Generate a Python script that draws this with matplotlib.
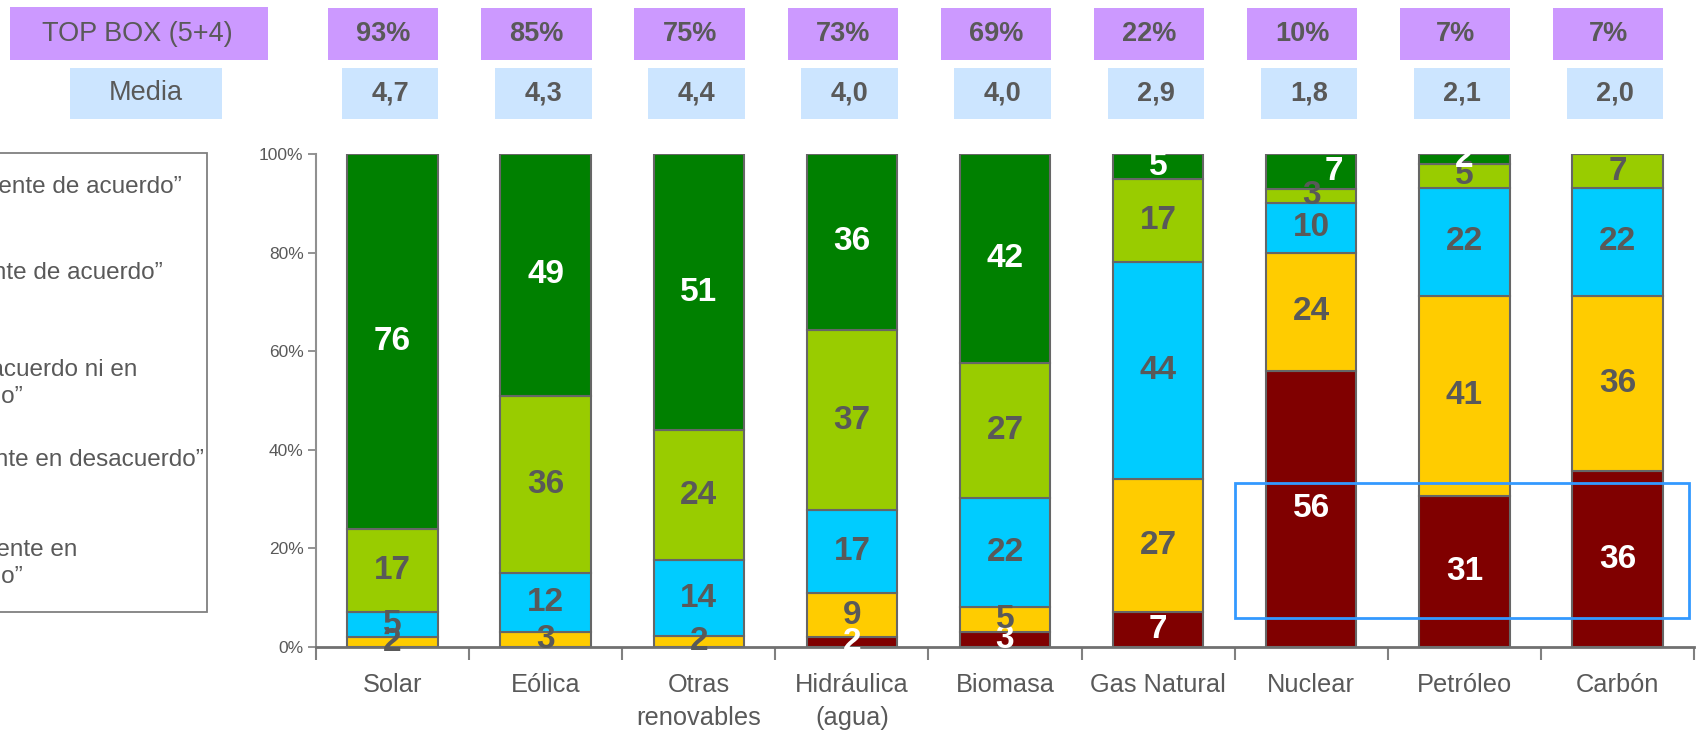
import matplotlib.pyplot as plt
import matplotlib.transforms as mtransforms
from matplotlib.patches import Rectangle
import numpy as np

plt.rcParams['font.family'] = ['Liberation Sans', 'DejaVu Sans']

categories = ["Solar", "Eólica", "Otras\nrenovables", "Hidráulica\n(agua)", "Biomasa",
              "Gas Natural", "Nuclear", "Petróleo", "Carbón"]

# answers per energy source, from "totalmente en desacuerdo" (1) up to "totalmente de acuerdo" (5)
tot_desacuerdo = [0, 0, 0, 2, 3, 7, 56, 31, 36]
bas_desacuerdo = [2, 3, 2, 9, 5, 27, 24, 41, 36]
ni_ni = [5, 12, 14, 17, 22, 44, 10, 22, 22]
bas_acuerdo = [17, 36, 24, 37, 27, 17, 3, 5, 7]
tot_acuerdo = [76, 49, 51, 36, 42, 5, 7, 2, 0]

top_box = ["93%", "85%", "75%", "73%", "69%", "22%", "10%", "7%", "7%"]
media = ["4,7", "4,3", "4,4", "4,0", "4,0", "2,9", "1,8", "2,1", "2,0"]

legend_lines = ["“Totalmente de acuerdo”", "“Bastante de acuerdo”",
                "“Ni de acuerdo ni en", "desacuerdo”", "“Bastante en desacuerdo”",
                "“Totalmente en", "desacuerdo”"]

series = [tot_desacuerdo, bas_desacuerdo, ni_ni, bas_acuerdo, tot_acuerdo]
colors = ["#800000", "#FFCC00", "#00CCFF", "#99CC00", "#008000"]
label_colors = ["white", "#595959", "#595959", "#595959", "white"]
GRAY = "#595959"

W, H = 1698, 731
fig = plt.figure(figsize=(W / 100, H / 100), dpi=100)
ax = fig.add_axes([316 / W, 1 - 647 / H, (1694 - 316) / W, (647 - 154) / H])

x = np.arange(len(categories))
vals = np.array(series, dtype=float)
pct = vals / vals.sum(axis=0) * 100  # each column stacked to 100%

bottom = np.zeros(len(categories))
for k in range(len(series)):
    ax.bar(x, pct[k], 0.59, bottom=bottom, color=colors[k],
           edgecolor="#666666", linewidth=1.5, zorder=2)
    for i in range(len(categories)):
        if vals[k, i] == 0:
            continue
        dx = 0.15 if (k == 4 and categories[i] == "Nuclear") else 0
        ax.text(x[i] + dx, bottom[i] + pct[k, i] / 2, "%d" % vals[k, i],
                ha="center", va="center", fontsize=24, fontweight="bold",
                color=label_colors[k], zorder=4)
    bottom += pct[k]

ax.set_xlim(-0.5, len(categories) - 0.5)
ax.set_ylim(0, 100)
ax.set_yticks(range(0, 101, 20))
ax.set_yticklabels(["%d%%" % v for v in range(0, 101, 20)])
ax.set_xticks(x)
ax.set_xticklabels(categories)
ax.set_xticks(np.arange(-0.5, len(categories)), minor=True)
ax.tick_params(axis="x", which="major", length=0, pad=19, labelsize=18.3, labelcolor=GRAY)
ax.tick_params(axis="x", which="minor", length=9, width=1.5, color="#808080")
ax.tick_params(axis="y", length=6, width=1.2, color="#808080", pad=3,
               labelsize=12.5, labelcolor=GRAY)
for lab in ax.get_xticklabels():
    lab.set_linespacing(1.45)

for side in ["top", "right"]:
    ax.spines[side].set_visible(False)
ax.spines["left"].set_color("#909090")
ax.spines["left"].set_linewidth(1.5)
ax.spines["bottom"].set_color("#707070")
ax.spines["bottom"].set_linewidth(2)

# highlight around the three least accepted sources
ax.add_patch(Rectangle((5.5, 5.9), 2.97, 27.4, fill=False, edgecolor="#3399FF",
                       linewidth=2, clip_on=False, zorder=5))

# summary boxes above the bars
trans = mtransforms.blended_transform_factory(ax.transData, fig.transFigure)
purple, blue = "#CC99FF", "#CCE5FF"
for i in range(len(categories)):
    ax.add_patch(Rectangle((x[i] - 0.42, 1 - 60 / H), 0.72, 52 / H, transform=trans,
                           facecolor=purple, edgecolor="none", clip_on=False))
    ax.text(x[i] - 0.06, 1 - 34 / H, top_box[i], transform=trans, ha="center", va="center",
            fontsize=19.5, fontweight="bold", color=GRAY)
    ax.add_patch(Rectangle((x[i] - 0.33, 1 - 119 / H), 0.63, 51 / H, transform=trans,
                           facecolor=blue, edgecolor="none", clip_on=False))
    ax.text(x[i] - 0.015, 1 - 93.5 / H, media[i], transform=trans, ha="center", va="center",
            fontsize=19.5, fontweight="bold", color=GRAY)

fig.patches.append(Rectangle((10 / W, 1 - 60 / H), 258 / W, 53 / H, transform=fig.transFigure,
                             facecolor=purple, edgecolor="none"))
fig.text(137 / W, 1 - 34 / H, "TOP BOX (5+4)", ha="center", va="center", fontsize=19.5, color=GRAY)
fig.patches.append(Rectangle((70 / W, 1 - 119 / H), 152 / W, 51 / H, transform=fig.transFigure,
                             facecolor=blue, edgecolor="none"))
fig.text(146 / W, 1 - 93.5 / H, "Media", ha="center", va="center", fontsize=19.5, color=GRAY)

# legend box, partly outside the left edge
fig.patches.append(Rectangle((-10 / W, 1 - 612 / H), 217 / W, 459 / H, transform=fig.transFigure,
                             fill=False, edgecolor="#808080", linewidth=1.3))
line_y = [187, 273, 370, 397, 460, 550, 577]
line_end = [182, 163, 137, 23, 204, 77, 23]
for txt, yy, xe in zip(legend_lines, line_y, line_end):
    fig.text(xe / W, 1 - yy / H, txt, ha="right", va="center", fontsize=17.5, color=GRAY)

fig.savefig("out.png", dpi=100)
